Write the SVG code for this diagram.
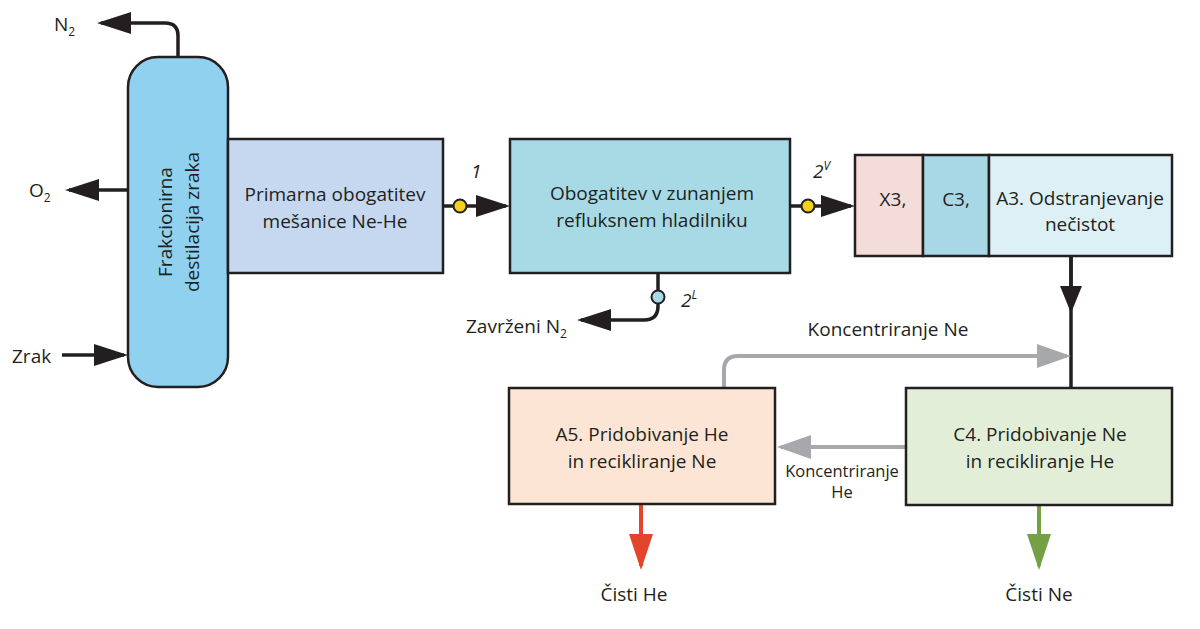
<svg xmlns="http://www.w3.org/2000/svg" width="1200" height="629" viewBox="0 0 1200 629">
<style>
text{font-family:"Open Sans","Noto Sans","Liberation Sans",sans-serif;font-size:19px;fill:#231f20}
.c{text-anchor:middle}
.sm{font-size:16.5px}
.it{font-style:italic}
.box{stroke:#231f20;stroke-width:2.5}
.ln{fill:none;stroke:#231f20;stroke-width:3.5}
.gr{fill:none;stroke:#a6a8ab;stroke-width:4}
.rd{fill:none;stroke:#e2452b;stroke-width:4}
.gn{fill:none;stroke:#76a045;stroke-width:4}
</style>
<defs>
<marker id="ab" markerUnits="userSpaceOnUse" viewBox="0 0 34 22" refX="30" refY="11" markerWidth="34" markerHeight="22" orient="auto"><path d="M0,0L34,11L0,22z" fill="#231f20"/></marker>
<marker id="ab2" markerUnits="userSpaceOnUse" viewBox="0 0 27 22" refX="23" refY="11" markerWidth="27" markerHeight="22" orient="auto"><path d="M0,0L27,11L0,22z" fill="#231f20"/></marker>
<marker id="ag" markerUnits="userSpaceOnUse" viewBox="0 0 34 24" refX="30" refY="12" markerWidth="34" markerHeight="24" orient="auto"><path d="M0,0L34,12L0,24z" fill="#a6a8ab"/></marker>
<marker id="ar" markerUnits="userSpaceOnUse" viewBox="0 0 36 24" refX="32" refY="12" markerWidth="36" markerHeight="24" orient="auto"><path d="M0,0L36,12L0,24z" fill="#e2452b"/></marker>
<marker id="an" markerUnits="userSpaceOnUse" viewBox="0 0 36 24" refX="32" refY="12" markerWidth="36" markerHeight="24" orient="auto"><path d="M0,0L36,12L0,24z" fill="#76a045"/></marker>
</defs>
<rect width="1200" height="629" fill="#fff"/>

<g id="connectors">
<path class="ln" d="M178,57V36Q178,23 165,23H101" marker-end="url(#ab)"/>
<path class="ln" d="M128,190H69" marker-end="url(#ab)"/>
<path class="ln" d="M62,355H124" marker-end="url(#ab)"/>
<path class="ln" d="M443,206H506" marker-end="url(#ab)"/>
<path class="ln" d="M790,206H851" marker-end="url(#ab)"/>
<path class="ln" d="M658,273V306Q658,320 644,320H581" marker-end="url(#ab)"/>
<path class="ln" d="M1071,256V388"/>
<path class="ln" d="M1071,256V309" marker-end="url(#ab2)"/>
<path class="gr" d="M724,388V370Q724,356 738,356H1067" marker-end="url(#ag)"/>
<path class="gr" d="M906,447H781" marker-end="url(#ag)"/>
<path class="rd" d="M641,505V566" marker-end="url(#ar)"/>
<path class="gn" d="M1039,505V566" marker-end="url(#an)"/>
<circle cx="460" cy="206" r="6.5" fill="#f2d21a" stroke="#231f20" stroke-width="2"/>
<circle cx="808" cy="206" r="6.5" fill="#f2d21a" stroke="#231f20" stroke-width="2"/>
<circle cx="658" cy="297" r="6.5" fill="#a8dae6" stroke="#231f20" stroke-width="2"/>
<text x="471" y="178" class="it">1</text>
<text x="813" y="178" class="it">2<tspan font-size="12" dy="-8">V</tspan></text>
<text x="681" y="307" class="it">2<tspan font-size="12" dy="-8">L</tspan></text>
<text x="54" y="31">N<tspan font-size="12" dy="5">2</tspan></text>
<text x="29" y="197">O<tspan font-size="12" dy="5">2</tspan></text>
<text x="12" y="363">Zrak</text>
<text x="466" y="333">Zavrženi N<tspan font-size="12" dy="5">2</tspan></text>
<text x="888" y="336" class="c">Koncentriranje Ne</text>
<text x="842" y="477" class="c sm">Koncentriranje</text>
<text x="842" y="498" class="c sm">He</text>
<text x="634" y="601" class="c">Čisti He</text>
<text x="1039" y="601" class="c">Čisti Ne</text>
</g>

<g id="column">
<rect x="128" y="57" width="100" height="330" rx="30" fill="#8fd1ef" class="box"/>
<g transform="translate(178,222) rotate(-90)">
<text x="0" y="-6" class="c" font-size="21">Frakcionirna</text>
<text x="0" y="21" class="c" font-size="21">destilacija zraka</text>
</g>
</g>

<g id="primary">
<rect x="228" y="139" width="215" height="134" fill="#c5d8ef" class="box"/>
<text x="335" y="201" class="c">Primarna obogatitev</text>
<text x="335" y="228" class="c">mešanice Ne-He</text>
</g>

<g id="reflux">
<rect x="510" y="139" width="280" height="134" fill="#a8dae6" class="box"/>
<text x="652" y="200" class="c">Obogatitev v zunanjem</text>
<text x="652" y="227" class="c">refluksnem hladilniku</text>
</g>

<g id="purification">
<rect x="855" y="155" width="68" height="101" fill="#f3dcda" class="box"/>
<rect x="923" y="155" width="66" height="101" fill="#a8d8e6" class="box"/>
<rect x="989" y="155" width="183" height="101" fill="#dcf0f5" class="box"/>
<text x="893" y="206" class="c">X3,</text>
<text x="956" y="206" class="c">C3,</text>
<text x="1080" y="205" class="c">A3. Odstranjevanje</text>
<text x="1080" y="231" class="c">nečistot</text>
</g>

<g id="a5">
<rect x="509" y="388" width="266" height="116" fill="#fce5d4" class="box"/>
<text x="642" y="441" class="c">A5. Pridobivanje He</text>
<text x="642" y="468" class="c">in recikliranje Ne</text>
</g>

<g id="c4">
<rect x="906" y="388" width="266" height="117" fill="#e3eed9" class="box"/>
<text x="1040" y="441" class="c">C4. Pridobivanje Ne</text>
<text x="1040" y="468" class="c">in recikliranje He</text>
</g>
</svg>
